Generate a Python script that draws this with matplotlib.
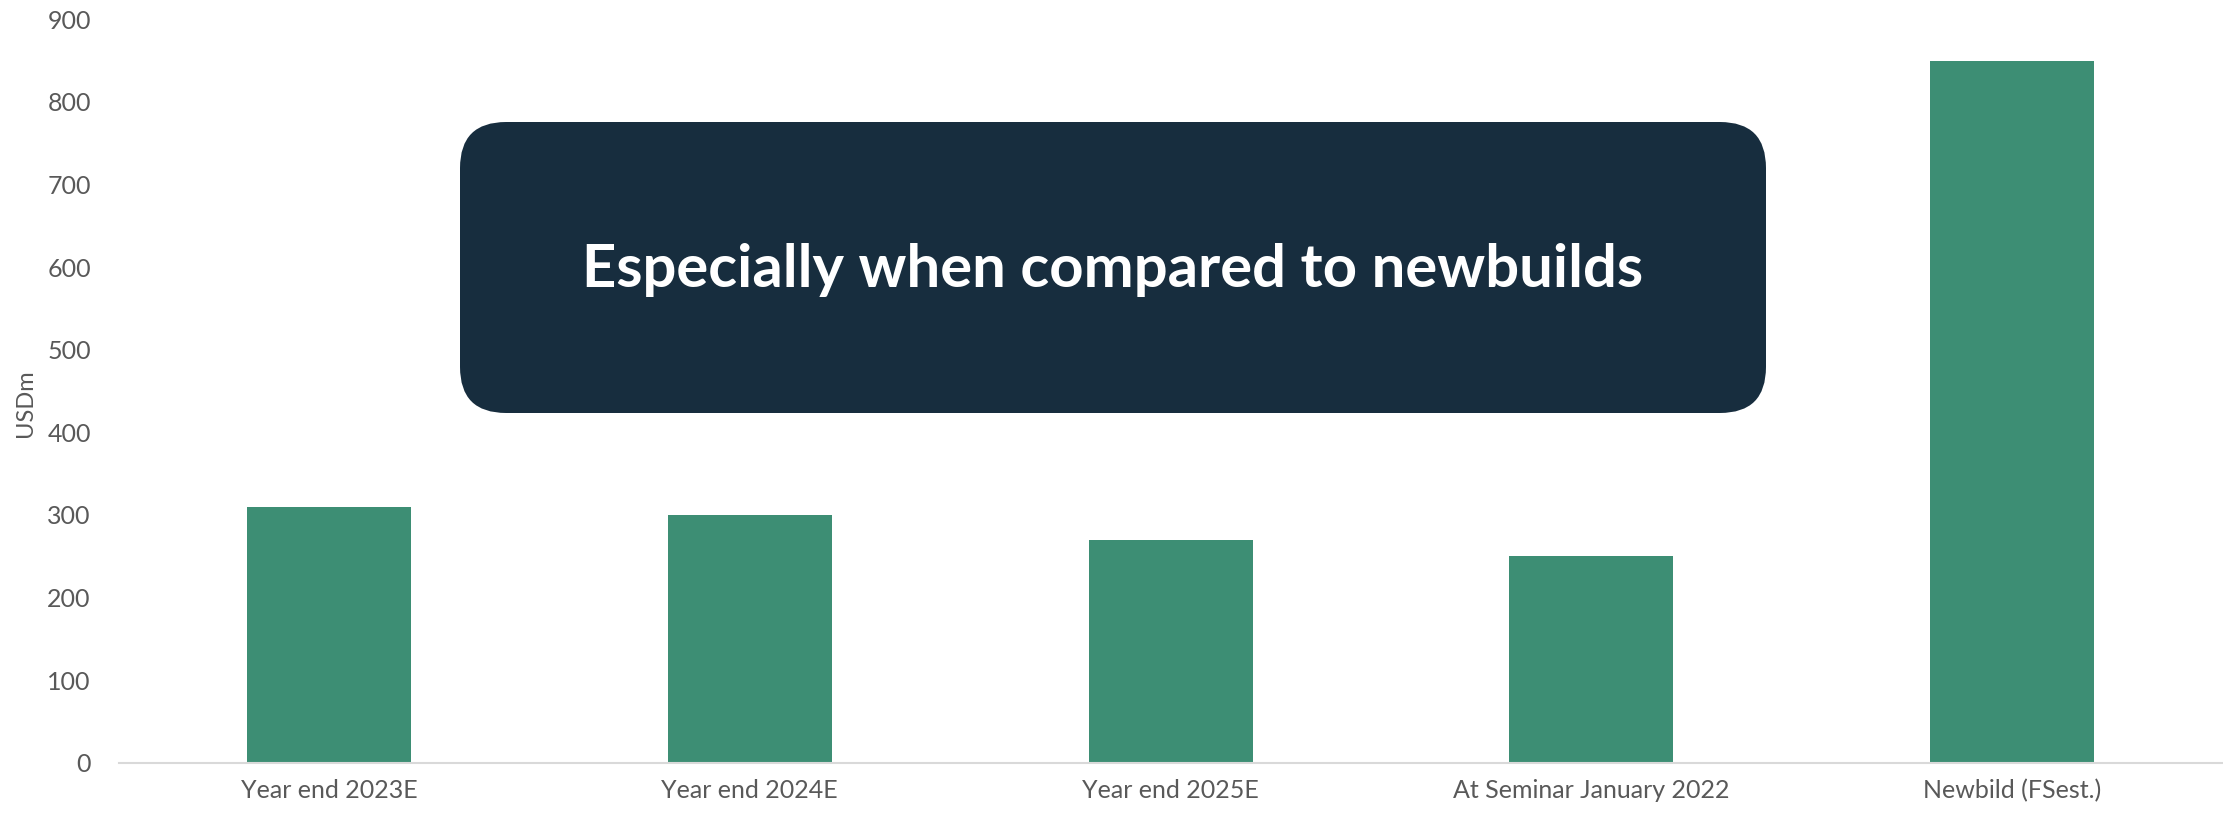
import matplotlib
matplotlib.use("Agg")
import matplotlib.pyplot as plt
from matplotlib.patches import FancyBboxPatch
import numpy as np

categories = ["Year end 2023E", "Year end 2024E", "Year end 2025E",
              "At Seminar January 2022", "Newbild (FSest.)"]
values = [310, 300, 270, 250, 850]
yticks = [0, 100, 200, 300, 400, 500, 600, 700, 800, 900]

plt.rcParams['font.family'] = ['Lato', 'DejaVu Sans']

W, H = 2223, 813
fig = plt.figure(figsize=(W / 100, H / 100), dpi=100)
ax = fig.add_axes([118.6 / W, (H - 762.7) / H, 2104 / W, (762.7 - 19.3) / H])

x = np.arange(len(categories))
ax.bar(x, values, width=0.39, color="#3d8e74", zorder=2)

ax.set_xlim(-0.5, len(categories) - 0.5)
ax.set_ylim(0, 900)
ax.set_yticks(yticks)
ax.set_xticks(x)
ax.set_xticklabels(categories)
ax.tick_params(axis='both', length=0, colors="#595959", labelsize=18)
ax.tick_params(axis='y', pad=20)
ax.tick_params(axis='x', pad=12)

for side in ["top", "right", "left"]:
    ax.spines[side].set_visible(False)
ax.spines["bottom"].set_color("#d9d9d9")
ax.spines["bottom"].set_linewidth(1.5)

fig.text(25 / W, 1 - 403 / H, "USDm", rotation=90, ha="center", va="center",
         fontsize=17, color="#595959")

# dark rounded callout box over the chart
x0, y0, x1, y1 = 460, 122, 1766, 413
box = FancyBboxPatch((x0, H - y1), x1 - x0, y1 - y0,
                     boxstyle="round,pad=0,rounding_size=46",
                     facecolor="#172d3e", edgecolor="none",
                     transform=None, zorder=5)
fig.patches.append(box)
fig.text((x0 + x1) / 2 / W, 1 - 270 / H, "Especially when compared to newbuilds",
         ha="center", va="center", fontsize=43, fontweight="bold",
         color="white", zorder=6)

fig.savefig("out.png", dpi=100)
